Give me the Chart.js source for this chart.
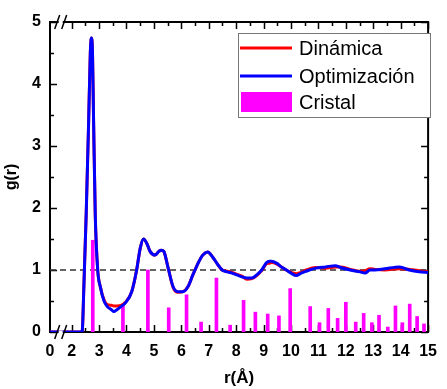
<!DOCTYPE html>
<html>
<head>
<meta charset="utf-8">
<script src="https://cdn.jsdelivr.net/npm/chart.js@4.4.0/dist/chart.umd.min.js"></script>
<style>
html, body { margin: 0; padding: 0; background: #fff; }
#wrap { width: 447px; height: 389px; }
</style>
</head>
<body>
<div id="wrap"><canvas id="myChart" width="447" height="389"></canvas></div>
<script>
// r values (Å) shared by both g(r) curves
const rCurve = [1.21, 2.38, 2.45, 2.53, 2.62, 2.68, 2.72, 2.76, 2.80, 2.86, 2.95, 3.05, 3.18, 3.30, 3.45, 3.54, 3.65, 3.80, 3.96, 4.19,
  4.37, 4.50, 4.62, 4.75, 4.86, 5.04, 5.18, 5.27, 5.36, 5.52, 5.70, 5.88, 6.06, 6.24, 6.42, 6.60, 6.78, 6.96, 7.14, 7.31,
  7.49, 7.67, 7.85, 8.03, 8.21, 8.39, 8.57, 8.75, 8.93, 9.11, 9.22, 9.29, 9.47, 9.65, 9.83, 10.00, 10.19, 10.37, 10.55, 10.90,
  11.26, 11.62, 11.80, 12.16, 12.52, 12.70, 12.88, 13.06, 13.42, 13.96, 14.31, 14.67, 15.00];

const gOptim = [0, 0, 0.8, 1.9, 3.4, 4.5, 4.74, 4.5, 3.4, 1.9, 1.0, 0.72, 0.5, 0.41, 0.36, 0.33, 0.36, 0.41, 0.47, 0.65,
  1.0, 1.35, 1.5, 1.42, 1.3, 1.24, 1.3, 1.32, 1.3, 1.03, 0.73, 0.65, 0.65, 0.73, 0.92, 1.1, 1.24, 1.29, 1.21, 1.1,
  1.0, 0.97, 0.95, 0.92, 0.89, 0.87, 0.87, 0.92, 1.0, 1.12, 1.14, 1.14, 1.11, 1.05, 1.0, 0.95, 0.91, 0.95, 0.98, 1.03,
  1.05, 1.07, 1.04, 1.0, 0.97, 0.95, 1.0, 1.0, 1.02, 1.05, 1.0, 0.97, 0.96];

const gDinam = [0, 0, 0.8, 1.9, 3.4, 4.5, 4.74, 4.5, 3.4, 1.9, 1.0, 0.72, 0.52, 0.44, 0.43, 0.42, 0.42, 0.43, 0.48, 0.65,
  1.0, 1.35, 1.5, 1.42, 1.3, 1.24, 1.3, 1.32, 1.3, 1.03, 0.72, 0.64, 0.65, 0.73, 0.92, 1.1, 1.24, 1.29, 1.21, 1.1,
  1.0, 0.98, 0.96, 0.93, 0.9, 0.85, 0.86, 0.91, 0.99, 1.1, 1.11, 1.12, 1.1, 1.05, 1.0, 0.96, 0.94, 0.96, 1.0, 1.04,
  1.03, 1.05, 1.05, 1.01, 0.98, 0.99, 1.02, 1.01, 1.0, 1.02, 1.01, 0.99, 0.97];

// crystal peaks (sticks)
const rCristal = [2.77, 3.87, 4.78, 5.54, 6.19, 6.72, 7.28, 7.78, 8.27, 8.70, 9.15, 9.56, 9.97, 10.70, 11.04, 11.36, 11.70, 12.00,
  12.36, 12.65, 12.95, 13.21, 13.53, 13.81, 14.06, 14.33, 14.60, 14.85];
const gCristal = [1.48, 0.43, 1.0, 0.39, 0.6, 0.16, 0.87, 0.11, 0.51, 0.32, 0.29, 0.26, 0.7, 0.41, 0.15, 0.38, 0.22, 0.48,
  0.16, 0.3, 0.15, 0.27, 0.08, 0.42, 0.15, 0.45, 0.25, 0.13];

// axis: broken between 0 and 2, left edge labelled "0"
const xStart = 1.21;
const xEnd = 15;
const xTicks = [2, 3, 4, 5, 6, 7, 8, 9, 10, 11, 12, 13, 14, 15];
const yTicks = [0, 1, 2, 3, 4, 5];
const refLevel = 1;

function pts(xs, ys) { return xs.map((v, i) => ({x: v, y: ys[i]})); }

const frame = {
  id: 'frame',
  beforeDatasetsDraw(chart) {
    const {ctx, chartArea: a, scales: {x, y}} = chart;
    ctx.save();
    ctx.strokeStyle = '#000';
    ctx.lineWidth = 2;
    ctx.strokeRect(a.left, a.top, a.right - a.left, a.bottom - a.top);
    ctx.lineWidth = 1.5;
    ctx.beginPath();
    xTicks.forEach(v => {
      [v, v + 0.5].forEach(t => {
        if (t > xEnd) return;
        const len = Number.isInteger(t) ? 7 : 4;
        const px = Math.round(x.getPixelForValue(t)) + 0.5;
        ctx.moveTo(px, a.bottom); ctx.lineTo(px, a.bottom - len);
        ctx.moveTo(px, a.top); ctx.lineTo(px, a.top + len);
      });
    });
    yTicks.forEach(v => {
      [v, v + 0.5].forEach(t => {
        if (t > 5) return;
        const len = Number.isInteger(t) ? 7 : 4;
        const py = Math.round(y.getPixelForValue(t)) + 0.5;
        ctx.moveTo(a.left, py); ctx.lineTo(a.left + len, py);
        ctx.moveTo(a.right, py); ctx.lineTo(a.right - len, py);
      });
    });
    ctx.stroke();
    ctx.restore();
  },
  afterDatasetsDraw(chart) {
    const {ctx, chartArea: a, scales: {x}} = chart;
    const bx = x.getPixelForValue(1.6);
    ctx.save();
    [a.top, a.bottom].forEach(py => {
      ctx.fillStyle = '#fff';
      ctx.fillRect(bx - 2, py - 1.5, 4, 3);
      ctx.strokeStyle = '#000';
      ctx.lineWidth = 1.5;
      ctx.beginPath();
      ctx.moveTo(bx - 6, py + 7); ctx.lineTo(bx - 1, py - 7);
      ctx.moveTo(bx + 1, py + 7); ctx.lineTo(bx + 6, py - 7);
      ctx.stroke();
    });
    ctx.restore();
  },
  afterDraw(chart) {
    const {ctx} = chart;
    const ds = chart.data.datasets;
    const bx = 238, by = 33, bw = 192, bh = 84;
    ctx.save();
    ctx.fillStyle = '#fff';
    ctx.fillRect(bx, by, bw, bh);
    ctx.strokeStyle = '#777';
    ctx.lineWidth = 1;
    ctx.strokeRect(bx + 0.5, by + 0.5, bw, bh);
    ctx.font = '20px "Liberation Sans", Arial, sans-serif';
    ctx.textBaseline = 'middle';
    // legend order: Dinámica, Optimización, Cristal
    const rows = [ds[1], ds[0], ds[2]];
    const ys = [48, 76, 102];
    rows.forEach((d, i) => {
      if (d.type === 'bar') {
        ctx.fillStyle = d.backgroundColor;
        ctx.fillRect(241, ys[i] - 10, 51, 20);
      } else {
        ctx.strokeStyle = d.borderColor;
        ctx.lineWidth = 3;
        ctx.beginPath();
        ctx.moveTo(240, ys[i]); ctx.lineTo(292, ys[i]);
        ctx.stroke();
      }
      ctx.fillStyle = '#000';
      ctx.fillText(d.label, 299, ys[i] + 1);
    });
    ctx.restore();
  }
};

const tickFont = {family: '"Liberation Sans", Arial, sans-serif', size: 16, weight: 'bold'};

new Chart(document.getElementById('myChart'), {
  type: 'line',
  data: {
    datasets: [
      {
        type: 'line', label: 'Optimización', data: pts(rCurve, gOptim),
        borderColor: '#0000ff', borderWidth: 3, pointRadius: 0,
        cubicInterpolationMode: 'monotone', order: 0
      },
      {
        type: 'line', label: 'Dinámica', data: pts(rCurve, gDinam),
        borderColor: '#ff0000', borderWidth: 3, pointRadius: 0,
        cubicInterpolationMode: 'monotone', order: 1
      },
      {
        type: 'bar', label: 'Cristal', data: pts(rCristal, gCristal),
        backgroundColor: '#ff00ff', barThickness: 3, order: 2
      },
      {
        type: 'line', label: 'ref', data: pts([xStart, xEnd], [refLevel, refLevel]),
        borderColor: '#333', borderWidth: 1.3, borderDash: [6, 4], pointRadius: 0, order: 3
      }
    ]
  },
  options: {
    responsive: false,
    animation: false,
    layout: {padding: {top: 22, right: 13, left: 0, bottom: 0}},
    plugins: {legend: {display: false}, tooltip: {enabled: false}},
    scales: {
      x: {
        type: 'linear', min: xStart, max: xEnd, offset: false,
        afterFit(s) { s.height = 57; },
        afterBuildTicks(s) { s.ticks = [xStart].concat(xTicks).map(v => ({value: v})); },
        grid: {display: false, drawTicks: false},
        border: {display: false},
        ticks: {
          color: '#000', font: tickFont, padding: 10, maxRotation: 0, autoSkip: false,
          callback: v => v === xStart ? '0' : v
        },
        title: {display: true, text: 'r(Å)', color: '#000', font: {family: '"Liberation Sans", Arial, sans-serif', size: 17, weight: 'bold'}, padding: {top: 0, bottom: 0}}
      },
      y: {
        min: 0, max: 5,
        afterFit(s) { s.width = 50; },
        afterBuildTicks(s) { s.ticks = yTicks.map(v => ({value: v})); },
        grid: {display: false, drawTicks: false},
        border: {display: false},
        ticks: {color: '#000', font: tickFont, padding: 9},
        title: {display: true, text: 'g(r)', color: '#000', font: {family: '"Liberation Sans", Arial, sans-serif', size: 16, weight: 'bold'}, padding: {top: 2, bottom: 0}}
      }
    }
  },
  plugins: [frame]
});
</script>
</body>
</html>
